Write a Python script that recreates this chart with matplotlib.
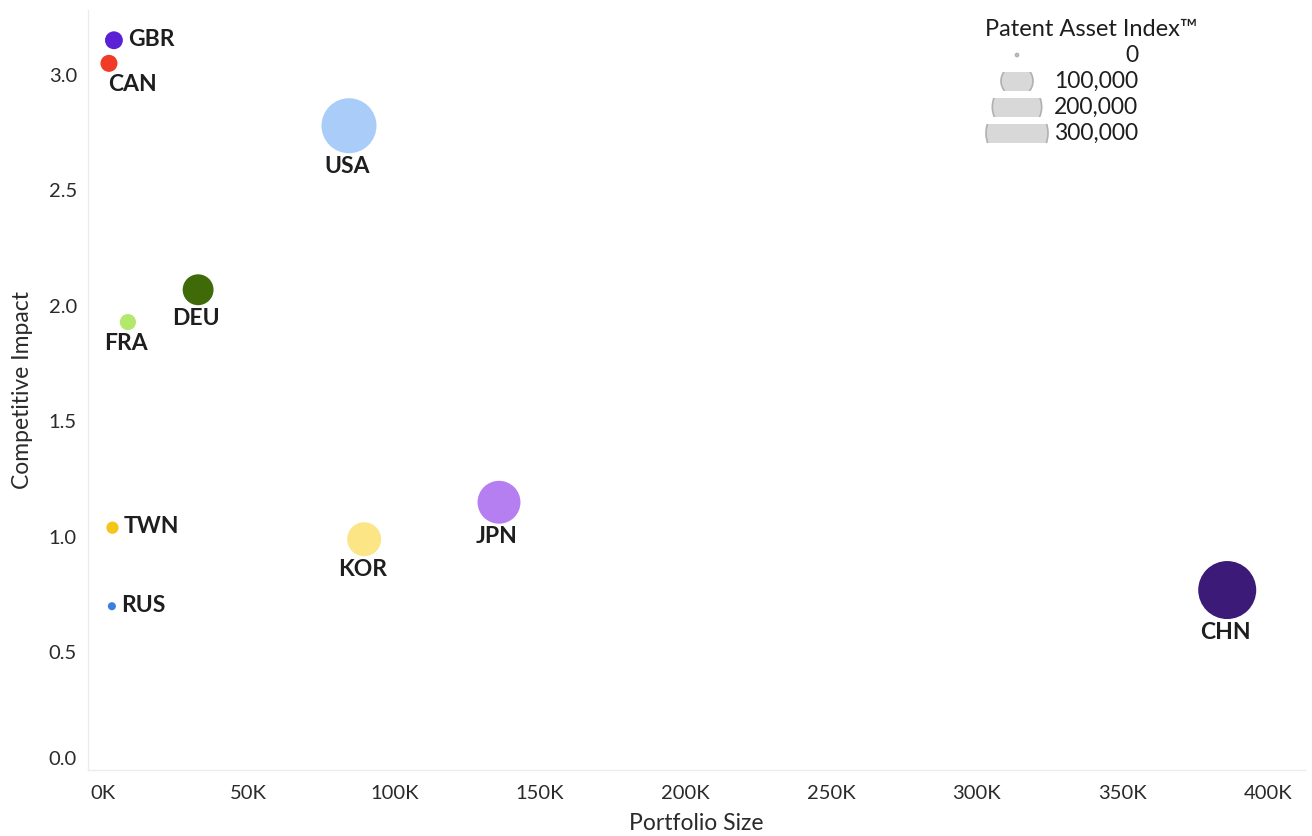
import numpy as np
import matplotlib
matplotlib.use("Agg")
import matplotlib.pyplot as plt
from matplotlib.patches import Circle, Rectangle
from matplotlib.ticker import FuncFormatter

plt.rcParams['font.family'] = ['Lato', 'DejaVu Sans']

# Country data: portfolio size, competitive impact, patent asset index
countries = ["GBR", "CAN", "USA", "DEU", "FRA", "TWN", "RUS", "KOR", "JPN", "CHN"]
portfolio = [3800, 2100, 84500, 32700, 8600, 3300, 3100, 89700, 136000, 386000]
impact = [3.15, 3.05, 2.78, 2.07, 1.93, 1.04, 0.70, 0.99, 1.15, 0.77]
pai = [50000, 48000, 242000, 95000, 46000, 38000, 32000, 109000, 158000, 266000]
colors = ["#5a22d4", "#f03c26", "#a9cdf8", "#3e6a08", "#b4e86c",
          "#f4c61c", "#3b7ee0", "#fbe585", "#b57ff2", "#3b1a78"]
label_side = ["right", "belowleft", "below", "below", "below",
              "right", "right", "below", "below", "below"]

legend_values = [0, 100000, 200000, 300000]
legend_labels = ["0", "100,000", "200,000", "300,000"]

DPI = 100


def radius_px(v):
    # bubble radius in pixels for a patent asset index value
    return np.sqrt(np.maximum(3.525e-3 * np.asarray(v, dtype=float) - 96.5, 2.25))


fig = plt.figure(figsize=(13.12, 8.36), dpi=DPI)
ax = fig.add_axes([88 / 1312, 66 / 836, (1305 - 88) / 1312, 760 / 836])

r = radius_px(pai)
sizes = (2 * r * 72 / DPI) ** 2
ax.scatter(portfolio, impact, s=sizes, c=colors, linewidths=0, zorder=3)

lab_kw = dict(textcoords="offset pixels", va="center", fontsize=16.5,
              fontweight="bold", color="#1e1e1e")
for name, x, y, rad, side in zip(countries, portfolio, impact, r, label_side):
    if side == "right":
        ax.annotate(name, (x, y), xytext=(rad + 5, 1), ha="left", **lab_kw)
    elif side == "belowleft":
        ax.annotate(name, (x, y), xytext=(-1, -(rad + 13)), ha="left", **lab_kw)
    else:
        ax.annotate(name, (x, y), xytext=(-2, -(rad + 13)), ha="center", **lab_kw)

ax.set_xlim(-5100, 412700)
ax.set_ylim(-0.009, 3.281)
ax.set_xticks(np.arange(0, 400001, 50000))
ax.set_yticks(np.arange(0, 3.01, 0.5))
ax.xaxis.set_major_formatter(FuncFormatter(lambda v, p: f"{int(v / 1000)}K"))
ax.yaxis.set_major_formatter(FuncFormatter(lambda v, p: f"{v:.1f}"))
ax.tick_params(length=0, labelsize=14.5, labelcolor="#2a2a2a")
ax.tick_params(axis="x", pad=11)
ax.tick_params(axis="y", pad=8)
ax.get_yticklabels()[0].set_va("bottom")

for s in ["top", "right"]:
    ax.spines[s].set_visible(False)
for s in ["left", "bottom"]:
    ax.spines[s].set_color("#ececec")
    ax.spines[s].set_linewidth(1)

ax.set_xlabel("Portfolio Size", fontsize=16.5, color="#2a2a2a", labelpad=8)
ax.set_ylabel("Competitive Impact", fontsize=16.5, color="#2a2a2a", labelpad=11)

# Size legend drawn on an overlay in pixel coordinates
lax = fig.add_axes([0, 0, 1, 1], zorder=5)
lax.set_xlim(0, 1312)
lax.set_ylim(836, 0)
lax.axis("off")
lax.text(1091, 30, "Patent Asset Index\u2122", ha="center", va="center",
         fontsize=17, color="#1e1e1e")
row_y = 55
for val, lab in zip(legend_values, legend_labels):
    rr = float(radius_px(val))
    circ = Circle((1017, row_y), rr, facecolor="#d8d8d8", edgecolor="#b0b0b0", linewidth=1.2)
    lax.add_patch(circ)
    clip = Rectangle((1017 - rr - 3, row_y - 9.5), 2 * rr + 6, 19, transform=lax.transData)
    circ.set_clip_path(clip)
    lax.text(1138, row_y, lab, ha="right", va="center", fontsize=16.5, color="#1e1e1e")
    row_y += 26

fig.savefig("out.png", dpi=DPI, facecolor="white")
